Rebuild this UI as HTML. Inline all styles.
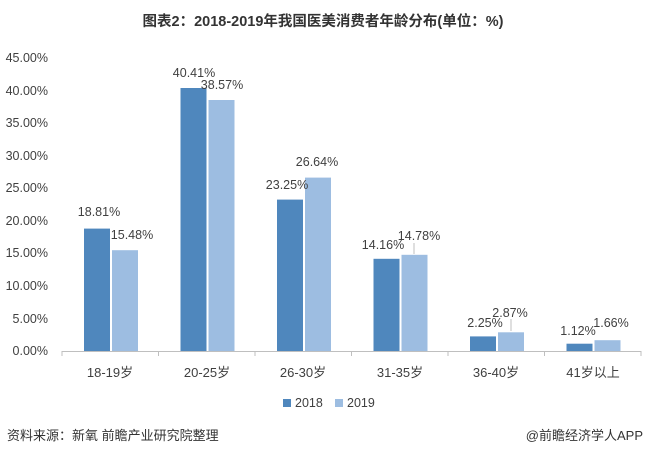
<!DOCTYPE html>
<html><head><meta charset="utf-8"><style>
body{margin:0;background:#fff;}
svg text{font-family:"Liberation Sans","Noto Sans CJK SC",sans-serif;fill:#404040;}
</style></head><body>
<svg width="646" height="455" viewBox="0 0 646 455" xmlns="http://www.w3.org/2000/svg">
<rect width="646" height="455" fill="#fff"/>
<text x="323" y="26" text-anchor="middle" font-size="14.5" font-weight="bold" style="fill:#333">图表2：2018-2019年我国医美消费者年龄分布(单位：%)</text>
<g font-size="12.5" text-anchor="end">
<text x="48" y="62">45.00%</text>
<text x="48" y="95">40.00%</text>
<text x="48" y="127">35.00%</text>
<text x="48" y="160">30.00%</text>
<text x="48" y="192">25.00%</text>
<text x="48" y="225">20.00%</text>
<text x="48" y="257">15.00%</text>
<text x="48" y="290">10.00%</text>
<text x="48" y="323">5.00%</text>
<text x="48" y="355">0.00%</text>
</g>
<g fill="#4f87bd">
<rect x="84" y="228.6" width="26" height="122.4"/>
<rect x="180.5" y="88" width="26" height="263"/>
<rect x="277" y="199.6" width="26" height="151.4"/>
<rect x="373.5" y="258.8" width="26" height="92.2"/>
<rect x="470" y="336.4" width="26" height="14.6"/>
<rect x="566.5" y="343.7" width="26" height="7.3"/>
</g>
<g fill="#9dbde1">
<rect x="112" y="250.2" width="26" height="100.8"/>
<rect x="208.5" y="100" width="26" height="251"/>
<rect x="305" y="177.6" width="26" height="173.4"/>
<rect x="401.5" y="254.8" width="26" height="96.2"/>
<rect x="498" y="332.3" width="26" height="18.7"/>
<rect x="594.5" y="340.2" width="26" height="10.8"/>
</g>
<line x1="62" y1="351.5" x2="641" y2="351.5" stroke="#bfbfbf"/>
<g stroke="#bfbfbf">
<line x1="62" y1="351" x2="62" y2="356"/><line x1="158.5" y1="351" x2="158.5" y2="356"/><line x1="255" y1="351" x2="255" y2="356"/><line x1="351.5" y1="351" x2="351.5" y2="356"/><line x1="448" y1="351" x2="448" y2="356"/><line x1="544.5" y1="351" x2="544.5" y2="356"/><line x1="641" y1="351" x2="641" y2="356"/>
<line x1="414" y1="254" x2="414" y2="243"/>
<line x1="511" y1="331" x2="511" y2="319"/>
</g>
<g font-size="12.5" text-anchor="middle">
<text x="99" y="216">18.81%</text>
<text x="132" y="239">15.48%</text>
<text x="194" y="77">40.41%</text>
<text x="222" y="89">38.57%</text>
<text x="287" y="189">23.25%</text>
<text x="317" y="166">26.64%</text>
<text x="383" y="249">14.16%</text>
<text x="419" y="240">14.78%</text>
<text x="485" y="327">2.25%</text>
<text x="510" y="317">2.87%</text>
<text x="578" y="335">1.12%</text>
<text x="611" y="327">1.66%</text>
</g>
<g font-size="13" text-anchor="middle">
<text x="110" y="377">18-19岁</text>
<text x="207" y="377">20-25岁</text>
<text x="303" y="377">26-30岁</text>
<text x="400" y="377">31-35岁</text>
<text x="496" y="377">36-40岁</text>
<text x="593" y="377">41岁以上</text>
</g>
<rect x="283" y="399" width="8" height="8" fill="#4f87bd"/>
<text x="295" y="407" font-size="12.5">2018</text>
<rect x="335" y="399" width="8" height="8" fill="#9dbde1"/>
<text x="347" y="407" font-size="12.5">2019</text>
<text x="7" y="440" font-size="13" style="fill:#333">资料来源：新氧 前瞻产业研究院整理</text>
<text x="643" y="440" font-size="13" text-anchor="end" style="fill:#333">@前瞻经济学人APP</text>
</svg>
</body></html>
